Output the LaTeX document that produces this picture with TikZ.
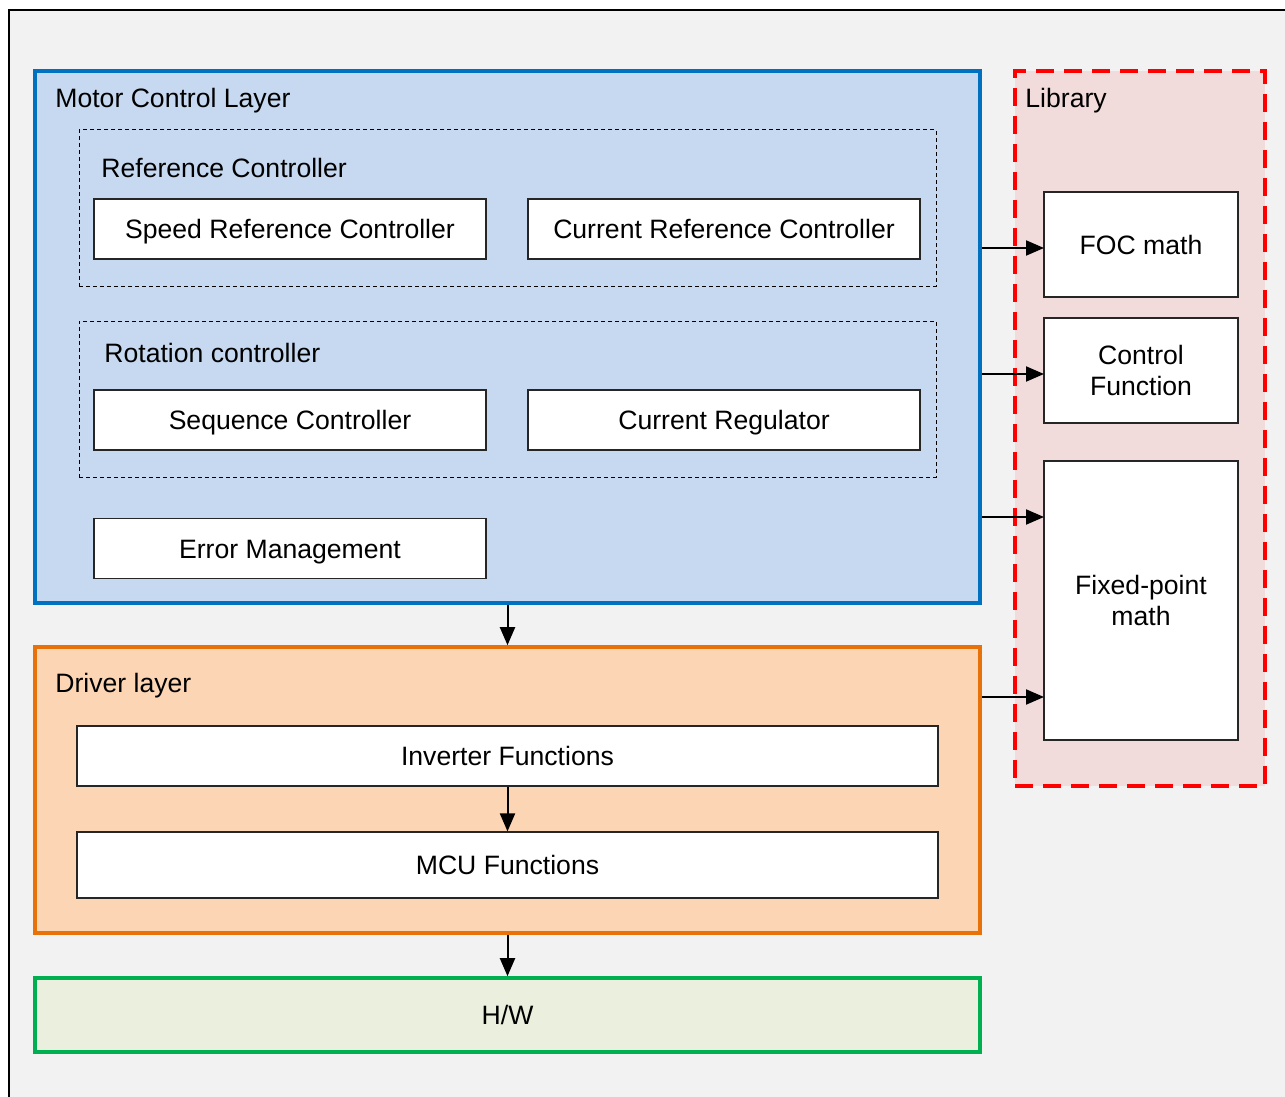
\documentclass[tikz,border=0pt]{standalone}
\usepackage{fontspec}
\setmainfont{Liberation Sans}
\usetikzlibrary{arrows.meta}
\definecolor{pagebg}{HTML}{F2F2F2}
\definecolor{mcline}{HTML}{0070C0}
\definecolor{mcfill}{HTML}{C6D9F0}
\definecolor{drvline}{HTML}{E8710A}
\definecolor{drvfill}{HTML}{FCD5B4}
\definecolor{hwline}{HTML}{00B050}
\definecolor{hwfill}{HTML}{EBF0DE}
\definecolor{libline}{HTML}{FF0000}
\definecolor{libfill}{HTML}{F2DCDB}
\begin{document}
\begin{tikzpicture}[x=0.5pt,y=-0.5pt,font=\fontsize{13.3}{15.5}\selectfont,
	>={Triangle[length=9pt,width=7.5pt]}]
	\useasboundingbox (0,0) rectangle (1285,1097);
	\fill[white] (0,0) rectangle (1285,1097);
	\draw[fill=pagebg,line width=1pt] (9,10) rectangle (1300,1110);
	% layers
	\begin{scope}[every node/.style={rectangle,line width=1.8pt,inner sep=0,text height=9.6pt,text depth=0pt}]
	\node[draw=mcline,fill=mcfill,minimum width=472.5pt,minimum height=266pt] (motor) at (507.5,337) {};
	\node[draw=drvline,fill=drvfill,minimum width=472.5pt,minimum height=143pt] (drv) at (507.5,790) {};
	\node[draw=hwline,fill=hwfill,minimum width=472.5pt,minimum height=37pt] (hw) at (507.5,1015) {H/W};
	\node[draw=libline,fill=libfill,dash pattern=on 9pt off 5pt,minimum width=125pt,minimum height=357.5pt] (lib) at (1140,428.5) {};
	\end{scope}
	\begin{scope}[every node/.style={rectangle,draw,line width=0.5pt,dash pattern=on 2pt off 1.5pt,minimum width=428.5pt,minimum height=78pt}]
	\node (refc) at (507.5,208) {};
	\node (rotc) at (507.5,399) {};
	\end{scope}
	\begin{scope}[every node/.style={anchor=base west,inner sep=0}]
	\node (motorT) at (55,108) {Motor Control Layer};
	\node (refcT) at (101,177) {Reference Controller};
	\node (rotcT) at (104,362) {Rotation controller};
	\node (drvT) at (55,692) {Driver layer};
	\node (libT) at (1025,108) {Library};
	\end{scope}
	% blocks
	\begin{scope}[every node/.style={rectangle,draw=black!85,fill=white,line width=0.6pt,align=center,minimum width=196pt,minimum height=30pt,text height=9.6pt,text depth=0pt}]
	\node (spd) at (290,229) {Speed Reference Controller};
	\node (cur) at (724,229) {Current Reference Controller};
	\node (seq) at (290,420) {Sequence Controller};
	\node (reg) at (724,420) {Current Regulator};
	\node (err) at (290,548.5) {Error Management};
	\node[minimum width=430.5pt] (inv) at (507.5,756) {Inverter Functions};
	\node[minimum width=430.5pt,minimum height=33pt] (mcu) at (507.5,865) {MCU Functions};
	\node[minimum width=97pt,minimum height=52.5pt] (foc) at (1141,244.5) {FOC math};
	\node[minimum width=97pt,minimum height=52.5pt,text height=,text depth=] (ctl) at (1141,370.5) {Control\\Function};
	\node[minimum width=97pt,minimum height=139.5pt,text height=,text depth=] (fix) at (1141,600.5) {Fixed-point\\math};
	\end{scope}
	\coordinate (p1) at (1044,248);
	\coordinate (p2) at (1044,374);
	\coordinate (p3) at (1044,517);
	\coordinate (p4) at (1044,697);
	\begin{scope}[every path/.style={->,line width=1pt}]
	\draw (motor.south) -- (drv.north);
	\draw (inv.south) -- (mcu.north);
	\draw (drv.south) -- (hw.north);
	\draw (motor.east |- p1) -- (p1);
	\draw (motor.east |- p2) -- (p2);
	\draw (motor.east |- p3) -- (p3);
	\draw (drv.east |- p4) -- (p4);
	\end{scope}
\end{tikzpicture}
\end{document}
